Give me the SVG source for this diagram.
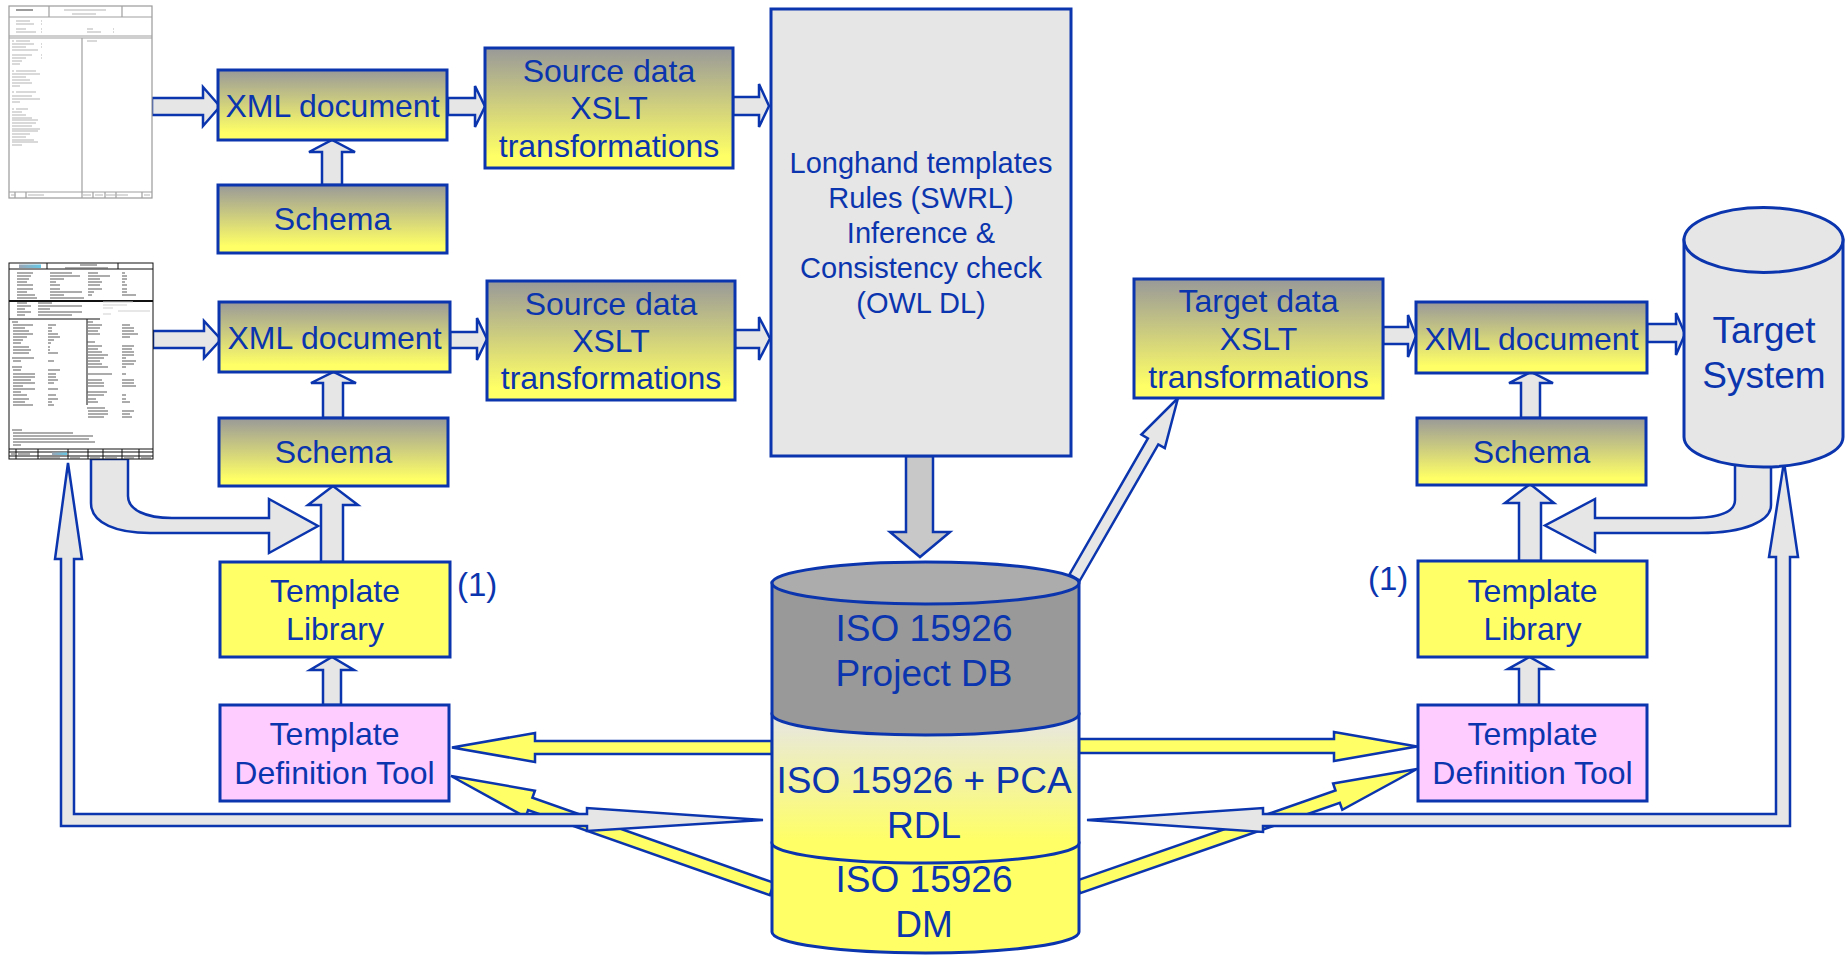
<svg xmlns="http://www.w3.org/2000/svg" width="1846" height="957" viewBox="0 0 1846 957">
<defs>
  <linearGradient id="gy" x1="0" y1="0" x2="0" y2="1">
    <stop offset="0" stop-color="#999999"/>
    <stop offset="0.9" stop-color="#ffff66"/>
  </linearGradient>
  <linearGradient id="rdl" x1="0" y1="0" x2="0" y2="1">
    <stop offset="0" stop-color="#e6e6e6"/>
    <stop offset="0.85" stop-color="#ffff66"/>
  </linearGradient>
  <linearGradient id="logo" x1="0" y1="0" x2="1" y2="0">
    <stop offset="0" stop-color="#9aa6b6"/>
    <stop offset="1" stop-color="#66c8e6"/>
  </linearGradient>
  <style>
    .box{stroke:#0b35ae;stroke-width:3}
    .grad{fill:url(#gy)}
    .yel{fill:#ffff66}
    .pink{fill:#ffccff}
    .t{font-family:"Liberation Sans",Arial,Helvetica,sans-serif;font-size:32px;fill:#0b35ae;text-anchor:middle}
    .s29{font-size:29px}
    .s37{font-size:37px}
    .s33{font-size:33px;text-anchor:start}
    .arr{fill:#e6e6e6;stroke:#0b35ae;stroke-width:2.5;stroke-linejoin:miter}
    .dark{fill:#c8c8c8}
    .ya{fill:#ffff66;stroke:#0b35ae;stroke-width:2.5;stroke-linejoin:miter}
    .cyl{stroke:#0b35ae;stroke-width:3}
    .pg{fill:#ffffff}
    .g1{fill:none;stroke:#a0a0a0;stroke-width:1.2}
    .gl{fill:none;stroke:#b4b4b4;stroke-width:1.2}
    .b1{fill:none;stroke:#111111;stroke-width:1}
    .bl{fill:none;stroke:#5a5a5a;stroke-width:1.2}
    .fl{fill:none;stroke:#d0d0d0;stroke-width:1.2}
  </style>
</defs>

<!-- connectors -->
<g id="connectors">
  <!-- yellow arrows between the RDL / DM store and the definition tools -->
  <polygon class="ya" points="772,741 535,741 535,733 452,747.5 535,762 535,754 772,754"/>
  <polygon class="ya" points="774.2,882.9 532.4,797.8 534.9,790.7 451,776 525.6,817.1 528.1,810 769.8,895.1"/>
  <polygon class="ya" points="1078,739 1334,739 1334,732 1417,746.5 1334,761 1334,753 1078,753"/>
  <polygon class="ya" points="1075.9,880.9 1335.5,790.5 1333.1,783.4 1417,769 1342.3,809.8 1339.8,802.8 1080.1,893.1"/>

  <!-- source documents into XML -->
  <polygon class="arr" points="152,98 203,98 203,87 220,106.5 203,126 203,115 152,115"/>
  <polygon class="arr" points="153,331 204,331 204,321 221,339.5 204,358 204,348 153,348"/>
  <!-- XML into source XSLT -->
  <polygon class="arr" points="448,98 475,98 475,86 485,106.5 475,127 475,115 448,115"/>
  <polygon class="arr" points="450,332 477,332 477,318 487,339 477,360 477,348 450,348"/>
  <!-- source XSLT into rules box -->
  <polygon class="arr" points="733,97 759,97 759,84 769,106 759,127 759,115 733,115"/>
  <polygon class="arr" points="735,330 759,330 759,317 770,338.5 759,360 759,348 735,348"/>
  <!-- schema into XML (left) -->
  <polygon class="arr" points="322,185 322,152 309,152 332,140 355,152 342,152 342,185"/>
  <polygon class="arr" points="323,418 323,383 311,383 333.5,372 356,383 343,383 343,418"/>
  <!-- template library into schema, definition tool into library (left) -->
  <polygon class="arr" points="321,562 321,505 308,505 333,486 358,505 343,505 343,562"/>
  <polygon class="arr" points="323,705 323,670 310,670 332,657 354,670 341,670 341,705"/>
  <!-- curved arrow: source document into template library stem -->
  <path class="arr" d="M91,459 L91,503 C91,524 118,533 150,533 L269,533 L269,553 L318,526 L269,499 L269,518 L172,518 C146,518 128,510 128,496 L128,459 Z"/>

  <!-- rules box down into project DB -->
  <polygon class="arr dark" points="906,456 906,532 890,532 920,557 950,532 933,532 933,456"/>
  <!-- project DB up to target XSLT -->
  <polygon class="arr" points="1079.9,580.5 1158.3,444.4 1164.8,448.1 1178,398 1141.4,434.6 1147.9,438.4 1069.5,574.5"/>

  <!-- target side -->
  <polygon class="arr" points="1383,327 1408,327 1408,315 1416,336 1408,357 1408,344 1383,344"/>
  <polygon class="arr" points="1647,324 1676,324 1676,313 1685,334 1676,355 1676,342 1647,342"/>
  <polygon class="arr" points="1521,418 1521,383 1509,383 1531,372 1553,383 1540,383 1540,418"/>
  <polygon class="arr" points="1519,561 1519,503 1505,503 1530,484 1554,503 1541,503 1541,561"/>
  <polygon class="arr" points="1519,705 1519,669 1508,669 1529.5,657 1551,669 1539,669 1539,705"/>
  <!-- curved arrow: target system into template library stem -->
  <path class="arr" d="M1735,440 L1735,500 C1735,512 1720,518 1690,518 L1595,518 L1595,499 L1545,525.5 L1595,552 L1595,533 L1700,533 C1745,533 1771,521 1771,505 L1771,440 Z"/>

  <!-- feedback loops from the RDL back to source document and target system -->
  <polygon class="arr" points="68,463 82,559 74,559 74,814 587,814 587,808 763,820 587,831 587,826 61,826 61,559 55,559"/>
  <polygon class="arr" points="1784,462 1798,557 1790,557 1790,826 1263,826 1263,832 1087,820 1263,808 1263,814 1776,814 1776,557 1769,557"/>
</g>

<!-- source document 1 (instrument data sheet) -->
<g id="doc-sheet-1">
  <rect class="pg" x="9" y="6" width="143" height="192" stroke="#9a9a9a" stroke-width="1.2"/>
  <path class="g1" d="M9,17H152 M49,6V17 M122,6V17 M9,36H152 M9,38H152 M82,38V192 M9,192H152 M15,192V198 M26,192V198 M82,192V198 M93,192V198 M105,192V198 M116,192V198 M142,192V198"/>
  <path class="bl" d="M16,10h17"/>
  <path class="gl" d="M64,10h42 M72,14h24
    M16,21h14 M16,24h18 M16,29h10 M16,32h20 M41,21h1 M41,24h1 M41,29h1 M41,32h1 M87,29h6 M87,32h14 M113,29h1 M113,32h1
    M12,41h2 M16,41h14 M12,44h22 M12,47h14 M12,50h26 M12,55h20 M12,58h14 M12,61h10 M12,64h8 M41,44h1 M41,47h1 M41,55h1 M41,58h1
    M12,71h2 M16,71h20 M12,74h28 M12,77h14 M12,80h18 M12,83h20 M12,86h8
    M12,92h2 M16,92h20 M12,96h20 M12,99h28 M12,102h8
    M12,109h2 M16,109h12 M12,112h10 M12,115h14 M12,118h20 M12,120h26 M12,123h24 M12,126h20 M12,129h28 M12,131h26 M12,134h18 M12,137h14 M12,140h22 M12,142h26 M12,145h10
    M87,41h10
    M11,195h5 M28,195h16 M83,195h8 M95,195h8 M106,195h22 M144,195h6"/>
</g>

<!-- source document 2 (transmitter data sheet) -->
<g id="doc-sheet-2">
  <rect class="pg" x="9" y="263" width="144" height="196" stroke="#111111" stroke-width="1"/>
  <path class="b1" d="M9,269H153 M47,263V269 M118,263V269 M9,300.5H153 M9,301.5H153 M9,319H100 M87,319V405 M9,449H153 M9,452H153 M9,456H153 M16,449V459 M38,449V459 M68,449V459 M88,449V459 M103,449V459 M122,449V459 M139,449V459"/>
  <rect x="19" y="264.5" width="22" height="3.5" fill="url(#logo)"/>
  <rect x="52" y="452.5" width="15" height="2.5" fill="url(#logo)"/>
  <path class="bl" d="M80,265h17 M65,268h43
    M17,273h16 M50,273h22 M88,273h10 M122,273h3
    M17,276h14 M50,276h30 M88,276h22 M122,276h5
    M17,279h12 M50,279h14 M88,279h12 M122,279h5
    M17,282h10 M50,282h6 M88,282h14 M122,282h3
    M17,285h16 M50,285h10 M88,285h12 M122,285h5
    M17,289h16 M50,289h10 M88,289h14 M122,289h5
    M17,292h10 M50,292h32 M88,292h6 M122,292h5
    M17,295h18 M50,295h14 M88,295h4 M122,295h14
    M17,298h20 M50,298h34
    M17,303h10 M38,303h14 M17,306h14 M38,306h44 M17,309h8 M38,309h12 M17,312h14 M38,312h44 M17,315h8 M38,315h34
    M12,322h6 M13,325h20 M48,325h8 M13,328h12 M48,328h4 M13,331h16 M48,331h4 M13,334h20 M48,334h10 M13,337h14 M48,337h12 M13,340h10 M48,340h6 M13,343h8 M48,343h3 M13,347h16 M48,347h2 M13,350h18 M48,350h2 M13,353h16 M48,353h10
    M12,358h22 M13,361h8 M48,361h6
    M12,367h10 M13,370h8 M48,370h12 M13,374h22 M48,374h8 M13,377h22 M48,377h8 M13,380h18 M48,380h10 M13,383h22 M48,383h6 M13,386h10 M13,389h22 M48,389h10 M13,392h8 M13,395h14 M48,395h8 M13,399h16 M48,399h10 M13,402h12 M48,402h4 M13,405h20 M48,405h6
    M87,322h6 M88,325h14 M122,325h8 M88,328h12 M122,328h12 M88,331h10 M122,331h12 M88,334h12 M122,334h16 M122,337h8
    M87,342h8 M88,346h14 M122,346h12 M88,349h10 M122,349h10 M88,352h14 M122,352h12 M88,355h20 M122,355h12 M88,358h16 M122,358h4 M88,361h12 M122,361h14 M88,364h14 M122,364h12 M88,367h20 M122,367h4 M88,374h24 M122,374h4 M88,380h14 M122,380h12 M88,383h16 M122,383h12 M88,386h16 M122,386h14
    M87,392h20 M88,395h16 M122,395h4 M88,399h8 M122,399h4 M88,402h10 M122,402h8
    M87,408h18 M88,411h20 M122,411h12 M88,414h20 M122,414h8 M88,417h16 M122,417h10
    M12,430h10 M13,433h60 M13,436h80 M13,439h76 M13,442h82 M13,445h8
    M11,454h4 M18,454h12 M40,458h20 M70,458h10 M90,458h10 M105,458h12 M124,458h10 M141,458h10"/>
  <path class="fl" d="M103,302h30 M103,305h24 M103,308h10 M118,311h32 M103,314h8"/>
</g>

<g id="xml-doc-1">
  <rect class="box grad" x="218" y="70" width="229" height="70"/>
  <text class="t" x="332.5" y="117">XML document</text>
</g>
<g id="schema-1">
  <rect class="box grad" x="218" y="185" width="229" height="68"/>
  <text class="t" x="332.5" y="230">Schema</text>
</g>
<g id="source-xslt-1">
  <rect class="box grad" x="485" y="48" width="248" height="120"/>
  <text class="t" x="609" y="82">Source data</text>
  <text class="t" x="609" y="119">XSLT</text>
  <text class="t" x="609" y="157">transformations</text>
</g>
<g id="xml-doc-2">
  <rect class="box grad" x="219" y="302" width="231" height="70"/>
  <text class="t" x="334.5" y="349">XML document</text>
</g>
<g id="schema-2">
  <rect class="box grad" x="219" y="418" width="229" height="68"/>
  <text class="t" x="333.5" y="463">Schema</text>
</g>
<g id="source-xslt-2">
  <rect class="box grad" x="487" y="281" width="248" height="119"/>
  <text class="t" x="611" y="315">Source data</text>
  <text class="t" x="611" y="352">XSLT</text>
  <text class="t" x="611" y="389">transformations</text>
</g>
<g id="rules-reasoning">
  <rect class="box" fill="#e6e6e6" x="771" y="9" width="300" height="447"/>
  <text class="t s29" x="921" y="173">Longhand templates</text>
  <text class="t s29" x="921" y="208">Rules (SWRL)</text>
  <text class="t s29" x="921" y="243">Inference &amp;</text>
  <text class="t s29" x="921" y="278">Consistency check</text>
  <text class="t s29" x="921" y="313">(OWL DL)</text>
</g>
<g id="template-library-left">
  <rect class="box yel" x="220" y="562" width="230" height="95"/>
  <text class="t" x="335" y="602">Template</text>
  <text class="t" x="335" y="640">Library</text>
  <text class="t s33" x="457" y="596">(1)</text>
</g>
<g id="template-tool-left">
  <rect class="box pink" x="220" y="705" width="229" height="96"/>
  <text class="t" x="334.5" y="745">Template</text>
  <text class="t" x="334.5" y="784">Definition Tool</text>
</g>

<g id="project-db">
  <!-- DM layer -->
  <path class="cyl yel" d="M772,843 L772,932 A153.5,21 0 0 0 1079,932 L1079,843 Z"/>
  <!-- RDL layer -->
  <path class="cyl" fill="url(#rdl)" d="M772,714 L772,843 A153.5,20 0 0 0 1079,843 L1079,714 Z"/>
  <!-- project layer -->
  <path class="cyl" fill="#999999" d="M772,583 L772,714 A153.5,21 0 0 0 1079,714 L1079,583 Z"/>
  <ellipse class="cyl" fill="#acacac" cx="925.5" cy="583" rx="153.5" ry="21"/>
  <text class="t s37" x="924" y="641">ISO 15926</text>
  <text class="t s37" x="924" y="686">Project DB</text>
  <text class="t s37" x="924" y="793">ISO 15926 + PCA</text>
  <text class="t s37" x="924" y="838">RDL</text>
  <text class="t s37" x="924" y="892">ISO 15926</text>
  <text class="t s37" x="924" y="937">DM</text>
</g>

<g id="target-xslt">
  <rect class="box grad" x="1134" y="279" width="249" height="119"/>
  <text class="t" x="1258.5" y="312">Target data</text>
  <text class="t" x="1258.5" y="350">XSLT</text>
  <text class="t" x="1258.5" y="388">transformations</text>
</g>
<g id="xml-doc-target">
  <rect class="box grad" x="1416" y="302" width="231" height="71"/>
  <text class="t" x="1531.5" y="350">XML document</text>
</g>
<g id="schema-target">
  <rect class="box grad" x="1417" y="418" width="229" height="67"/>
  <text class="t" x="1531.5" y="463">Schema</text>
</g>
<g id="target-system">
  <path class="cyl" fill="#e6e6e6" d="M1684,240 L1684,437 A79.5,30 0 0 0 1843,437 L1843,240 Z"/>
  <ellipse class="cyl" fill="#e6e6e6" cx="1763.5" cy="240" rx="79.5" ry="32.5"/>
  <text class="t s37" x="1764" y="343">Target</text>
  <text class="t s37" x="1764" y="388">System</text>
</g>
<g id="template-library-right">
  <rect class="box yel" x="1418" y="561" width="229" height="96"/>
  <text class="t" x="1532.5" y="602">Template</text>
  <text class="t" x="1532.5" y="640">Library</text>
  <text class="t s33" x="1368" y="590">(1)</text>
</g>
<g id="template-tool-right">
  <rect class="box pink" x="1418" y="705" width="229" height="96"/>
  <text class="t" x="1532.5" y="745">Template</text>
  <text class="t" x="1532.5" y="784">Definition Tool</text>
</g>
</svg>
